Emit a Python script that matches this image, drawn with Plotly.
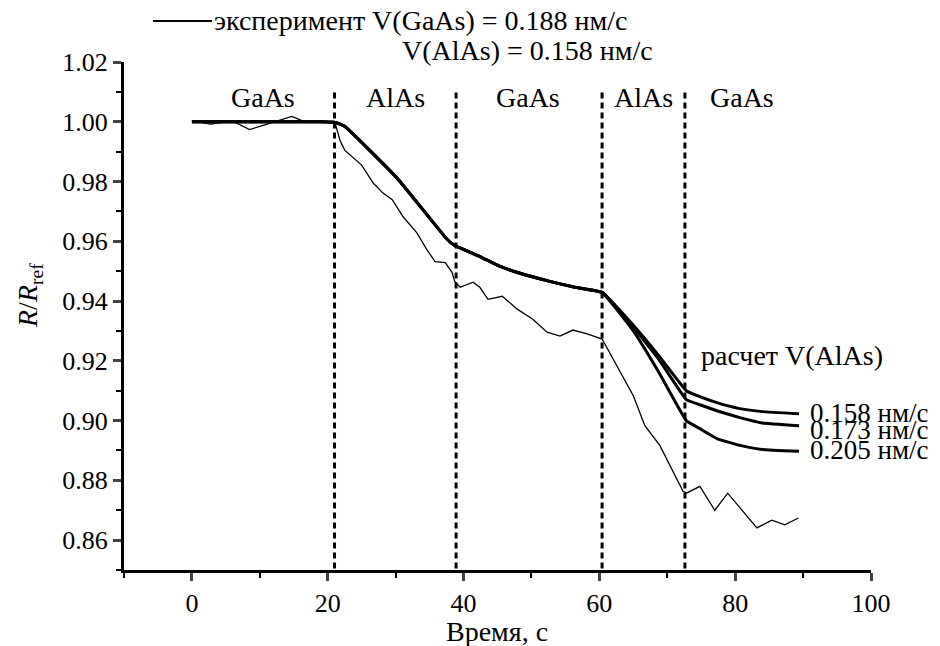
import plotly.graph_objects as go

# ---------------- data ----------------
exp_t = [0.2, 2.7, 6.0, 8.5, 10.5, 13.0, 14.7, 16.4, 18.9, 21.1, 21.8, 22.5, 23.7, 25.0,
         26.7, 28.1, 29.5, 31.1, 33.1, 34.6, 35.8, 37.3, 38.3, 38.7, 39.5, 41.4, 42.4,
         43.6, 45.7, 47.9, 50.2, 52.3, 54.2, 56.1, 58.2, 60.4, 65.0, 66.7, 68.9, 72.3,
         72.8, 74.8, 77.0, 78.9, 83.2, 85.4, 87.3, 89.3]
exp_r = [1.0003, 0.9992, 1.0002, 0.9974, 0.9988, 1.0005, 1.0018, 1.0002, 1.0000, 0.9995,
         0.9938, 0.9905, 0.9882, 0.9855, 0.9795, 0.9762, 0.9739, 0.9682, 0.9629, 0.9572,
         0.9532, 0.9529, 0.9496, 0.9466, 0.9446, 0.9463, 0.9446, 0.9406, 0.9416, 0.9373,
         0.9339, 0.9296, 0.9283, 0.9303, 0.9290, 0.9273, 0.9083, 0.8983, 0.8917, 0.8764,
         0.8757, 0.8780, 0.8700, 0.8757, 0.8641, 0.8667, 0.8651, 0.8674]

calc_common_t = [0.0, 18.9, 21.1, 22.5, 30.2, 37.6, 38.7, 42.4, 45.4, 48.3, 52.7, 56.4, 60.4]
calc_common_r = [1.0000, 1.0000, 0.9998, 0.9985, 0.9812, 0.9606, 0.9586, 0.9549, 0.9516,
                 0.9493, 0.9466, 0.9446, 0.9429]
calc_branch_t = [65.0, 68.9, 72.8, 74.8, 77.3, 80.7, 84.0, 89.4]
calc_158 = [0.9319, 0.9213, 0.9100, 0.9080, 0.9060, 0.9040, 0.9030, 0.9023]
calc_173 = [0.9313, 0.9200, 0.9070, 0.9053, 0.9033, 0.9010, 0.8992, 0.8983]
calc_205 = [0.9300, 0.9156, 0.9000, 0.8973, 0.8940, 0.8917, 0.8903, 0.8897]
calc_labels = ["0.158 нм/с", "0.173 нм/с", "0.205 нм/с"]
calc_label_y = [0.9026, 0.8970, 0.8900]

boundaries = [21.0, 38.9, 60.4, 72.6]
boundary_top = 1.0105
layer_names = ["GaAs", "AlAs", "GaAs", "AlAs", "GaAs"]
layer_centers = [10.5, 30.0, 49.5, 66.5, 81.0]
layer_label_y = 1.0082

x_ticks = [0, 20, 40, 60, 80, 100]
y_ticks = [0.86, 0.88, 0.90, 0.92, 0.94, 0.96, 0.98, 1.00, 1.02]

FONT = "Liberation Serif, Times New Roman, serif"

fig = go.Figure()

# dashed layer boundaries
for b in boundaries:
    fig.add_trace(go.Scatter(x=[b, b], y=[0.8505, boundary_top], mode="lines",
                             line=dict(color="black", width=3, dash="6px,4px"),
                             showlegend=False, hoverinfo="skip"))

# experiment
fig.add_trace(go.Scatter(x=exp_t, y=exp_r, mode="lines",
                         line=dict(color="black", width=1.3),
                         showlegend=False))

# calculations
for series in (calc_158, calc_173, calc_205):
    fig.add_trace(go.Scatter(x=calc_common_t + calc_branch_t,
                             y=calc_common_r + series, mode="lines",
                             line=dict(color="black", width=3, shape="spline", smoothing=0.3),
                             showlegend=False))

ann = []
for name, cx in zip(layer_names, layer_centers):
    ann.append(dict(x=cx, y=layer_label_y, xref="x", yref="y", text=name, showarrow=False,
                    font=dict(family=FONT, size=28, color="black"), xanchor="center", yanchor="middle"))
for lab, ly in zip(calc_labels, calc_label_y):
    ann.append(dict(x=90.7, y=ly, xref="x", yref="y", text=lab, showarrow=False,
                    font=dict(family=FONT, size=27, color="black"), xanchor="left", yanchor="middle"))
ann.append(dict(x=74.6, y=0.9218, xref="x", yref="y", text="расчет V(AlAs)", showarrow=False,
                font=dict(family=FONT, size=28, color="black"), xanchor="left", yanchor="middle"))

# top legend-like text
ann.append(dict(x=(212 - 124) / 747, y=(570 - 21) / 508, xref="paper", yref="paper",
                text="эксперимент V(GaAs) = 0.188 нм/с", showarrow=False,
                font=dict(family=FONT, size=28, color="black"), xanchor="left", yanchor="middle"))
ann.append(dict(x=(655 - 124) / 747, y=(570 - 50) / 508, xref="paper", yref="paper",
                text="V(AlAs) = 0.158 нм/с", showarrow=False,
                font=dict(family=FONT, size=28, color="black"), xanchor="right", yanchor="middle"))
# y-axis title
ann.append(dict(x=(29 - 124) / 747, y=(570 - 296) / 508, xref="paper", yref="paper",
                text="<i>R</i>/<i>R</i><sub>ref</sub>", showarrow=False, textangle=-90,
                font=dict(family=FONT, size=28, color="black"), xanchor="center", yanchor="middle"))
# x-axis title
ann.append(dict(x=(497 - 124) / 747, y=(570 - 631) / 508, xref="paper", yref="paper",
                text="Время, с", showarrow=False,
                font=dict(family=FONT, size=28, color="black"), xanchor="center", yanchor="middle"))

fig.update_layout(
    width=940, height=646,
    margin=dict(l=124, r=69, t=62, b=76, autoexpand=False),
    paper_bgcolor="white", plot_bgcolor="white",
    font=dict(family=FONT, size=26, color="black"),
    annotations=ann,
    shapes=[dict(type="line", xref="paper", yref="paper",
                 x0=(153 - 124) / 747, x1=(212 - 124) / 747,
                 y0=(570 - 21) / 508, y1=(570 - 21) / 508,
                 line=dict(color="black", width=2))],
    xaxis=dict(range=[-10, 100], tickvals=x_ticks, ticks="outside", ticklen=8, tickwidth=3,
               showline=True, linewidth=3, linecolor="black", showgrid=False, zeroline=False,
               automargin=False,
               tickfont=dict(family=FONT, size=26, color="black"),
               minor=dict(dtick=10, tick0=0, ticks="outside", ticklen=5, tickwidth=2, tickcolor="black")),
    yaxis=dict(range=[0.85, 1.02], tickvals=y_ticks, ticktext=[f"{v:.2f}" for v in y_ticks],
               ticks="outside", ticklen=8, tickwidth=3, automargin=False,
               showline=True, linewidth=3, linecolor="black", showgrid=False, zeroline=False,
               tickfont=dict(family=FONT, size=26, color="black"),
               minor=dict(dtick=0.01, tick0=0.85, ticks="outside", ticklen=5, tickwidth=2, tickcolor="black")),
)

fig.write_html("out.html", config={"displayModeBar": False},
               post_script="document.body.style.margin='0';document.body.style.overflow='hidden';")
